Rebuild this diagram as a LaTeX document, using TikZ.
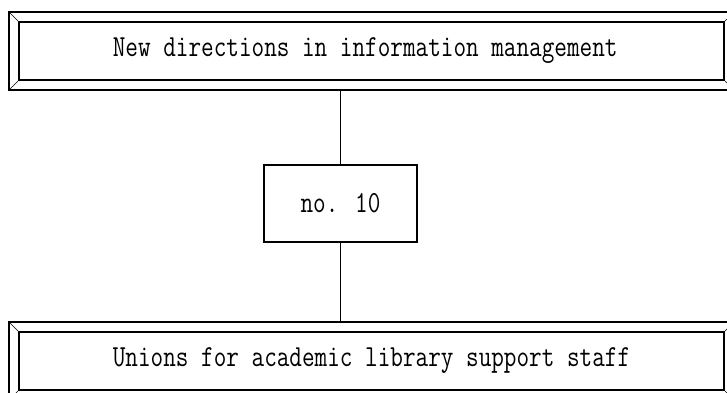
\documentclass[tikz,border=0pt]{standalone}
\usepackage{fontspec}
\usepackage{graphicx}
\newcommand\boxtext[1]{\scalebox{1}[1.25]{#1}}
\tikzset{
  frame/.style={draw,line width=1.3pt,minimum width=725pt,minimum height=78pt,inner sep=0pt},
  panel/.style={draw,line width=1.8pt,minimum width=705pt,minimum height=58pt,inner sep=0pt,
    font=\ttfamily\fontsize{24.5}{28}\selectfont},
  issue/.style={draw,line width=1.5pt,minimum width=153pt,minimum height=77pt,inner sep=0pt,
    font=\ttfamily\fontsize{24.5}{28}\selectfont},
  link/.style={line width=1.7pt}
}
\begin{document}
\begin{tikzpicture}
           [x=1pt,y=-1pt]
           \useasboundingbox (0,0) rectangle (727,392);

           % series title
           \node[frame] (topframe) at (371.5,51) {};
           \node[panel] (top) at (371.5,51) {\boxtext{New directions in information management~}};
           \draw (topframe.north west) -- (top.north west);
           \draw (topframe.south west) -- (top.south west);
           \draw (topframe.north east) -- (top.north east);
           \draw (topframe.south east) -- (top.south east);

           % issue number
           \node[issue] (mid) at (340.5,203.5) {\boxtext{no. 10}};

           % book title
           \node[frame] (botframe) at (371.5,361) {};
           \node[panel] (bot) at (371.5,361) {\boxtext{Unions for academic library support staff}};
           \draw (botframe.north west) -- (bot.north west);
           \draw (botframe.south west) -- (bot.south west);
           \draw (botframe.north east) -- (bot.north east);
           \draw (botframe.south east) -- (bot.south east);

           \draw[link] (mid.north) -- (mid.north |- topframe.south);
           \draw[link] (mid.south) -- (mid.south |- botframe.north);
         \end{tikzpicture}
\end{document}
